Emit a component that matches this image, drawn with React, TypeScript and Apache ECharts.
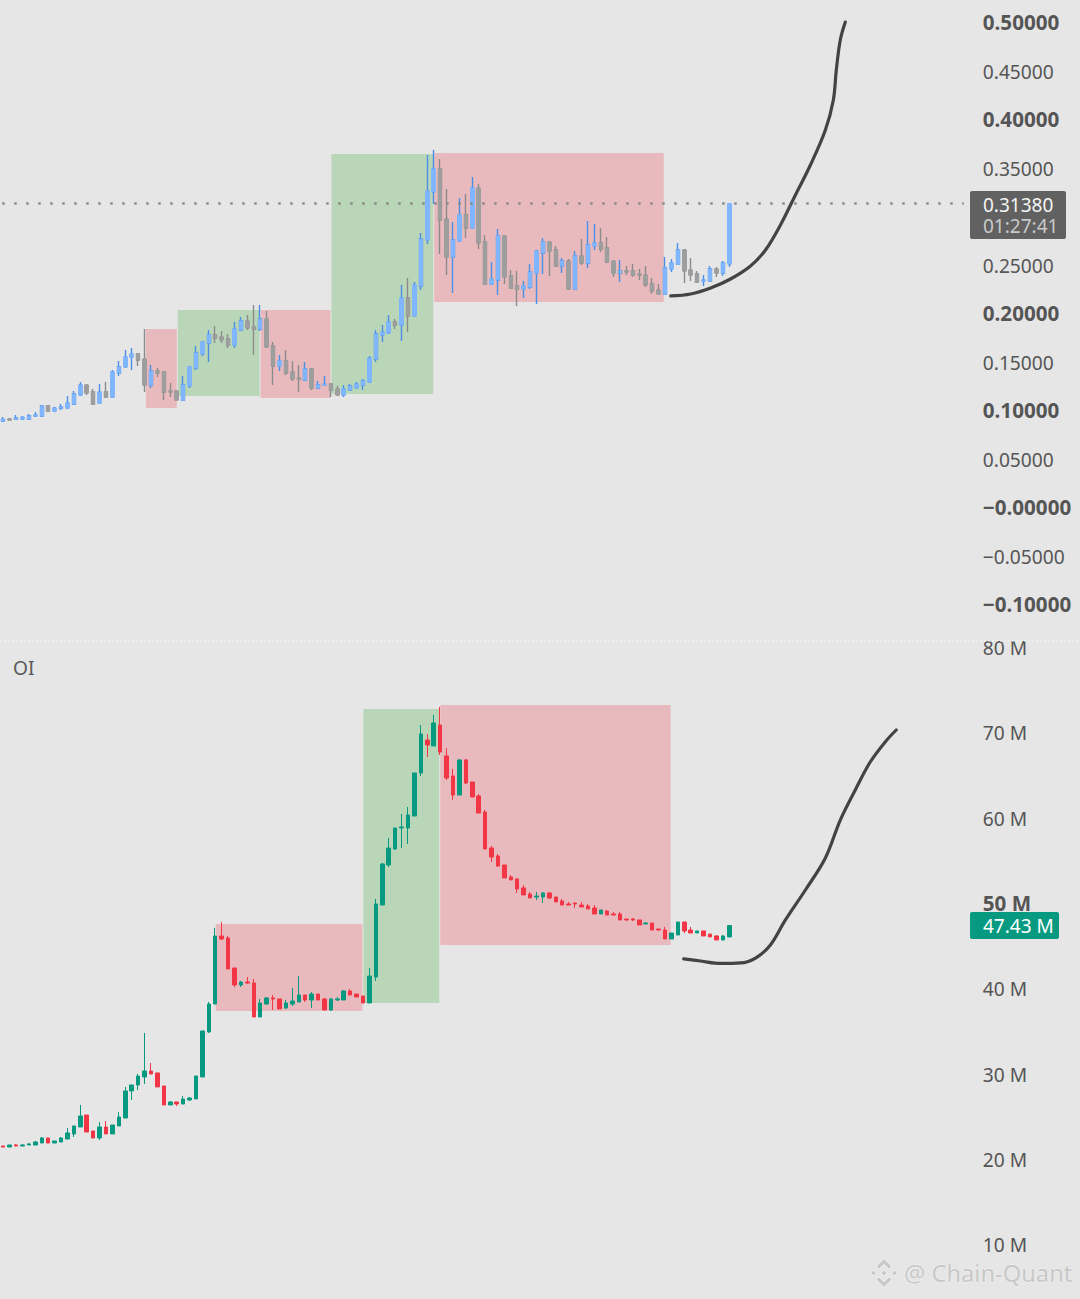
import React, { useEffect, useRef } from "react";
import * as echarts from "echarts";

// Each row: open, close, low, high
const priceCandles: number[][] = [
  [.0897,.0914,.0887,.0938],[.0918,.0907,.0907,.0928],[.0918,.0928,.0918,.0959],[.0918,.0935,.0907,.0945],
  [.0918,.0948,.0918,.0969],[.0948,.0959,.0938,.0990],[.0948,.1052,.0948,.1062],[.1052,.1000,.1000,.1052],
  [.1000,.1031,.1000,.1041],[.1031,.1041,.1010,.1072],[.1031,.1082,.1031,.1155],[.1072,.1175,.1062,.1206],
  [.1165,.1268,.1155,.1299],[.1268,.1186,.1165,.1268],[.1196,.1072,.1072,.1227],[.1082,.1196,.1082,.1278],
  [.1196,.1144,.1134,.1299],[.1144,.1402,.1144,.1423],[.1392,.1454,.1361,.1515],[.1454,.1557,.1454,.1629],
  [.1557,.1588,.1423,.1649],[.1588,.1526,.1464,.1598],[.1536,.1268,.1196,.1845],[.1268,.1412,.1237,.1474],
  [.1412,.1392,.1351,.1443],[.1402,.1196,.1113,.1402],[.1206,.1196,.1144,.1289],[.1206,.1113,.1113,.1216],
  [.1113,.1268,.1113,.1361],[.1258,.1454,.1237,.1454],[.1443,.1598,.1423,.1670],[.1588,.1711,.1567,.1722],
  [.1701,.1784,.1505,.1835],[.1784,.1753,.1701,.1876],[.1763,.1732,.1701,.1825],[.1742,.1680,.1649,.1794],
  [.1680,.1845,.1649,.1918],[.1835,.1928,.1825,.1969],[.1928,.1856,.1835,.1990],[.1866,.1845,.1577,.2093],
  [.1845,.1948,.1825,.2093],[.1948,.1660,.1649,.2031],[.1670,.1464,.1268,.1711],[.1464,.1515,.1412,.1577],
  [.1515,.1392,.1371,.1629],[.1402,.1330,.1309,.1515],[.1340,.1330,.1196,.1474],[.1320,.1433,.1309,.1505],
  [.1433,.1237,.1216,.1443],[.1237,.1268,.1227,.1309],[.1268,.1278,.1268,.1361],[.1278,.1216,.1144,.1278],
  [.1227,.1165,.1165,.1258],[.1165,.1227,.1144,.1268],[.1216,.1258,.1216,.1278],[.1237,.1278,.1237,.1299],
  [.1268,.1309,.1216,.1330],[.1299,.1546,.1299,.1567],[.1536,.1794,.1505,.1835],[.1784,.1814,.1711,.1887],
  [.1804,.1918,.1794,.1990],[.1918,.1887,.1845,.1948],[.1887,.2165,.1722,.2299],[.2165,.1979,.1814,.2371],
  [.1979,.2299,.1979,.2330],[.2289,.2773,.2247,.2835],[.2763,.3268,.2722,.3639],[.3258,.3495,.3134,.3691],
  [.3495,.2969,.2619,.3598],[.2979,.2588,.2402,.3289],[.2588,.2763,.2216,.2948],[.2753,.3021,.2753,.3196],
  [.3021,.2887,.2784,.3237],[.2887,.3299,.2887,.3412],[.3299,.2732,.2670,.3340],[.2742,.2309,.2309,.2814],
  [.2309,.2361,.2299,.2536],[.2351,.2804,.2196,.2876],[.2804,.2381,.2309,.2814],[.2392,.2268,.2268,.2454],
  [.2289,.2258,.2082,.2443],[.2258,.2289,.2165,.2340],[.2278,.2433,.2258,.2515],[.2423,.2649,.2103,.2660],
  [.2629,.2742,.2412,.2784],[.2742,.2649,.2392,.2753],[.2660,.2495,.2495,.2701],[.2495,.2546,.2423,.2577],
  [.2546,.2258,.2258,.2567],[.2258,.2598,.2258,.2649],[.2598,.2526,.2505,.2773],[.2526,.2711,.2474,.2959],
  [.2701,.2732,.2660,.2928],[.2732,.2670,.2639,.2887],[.2680,.2536,.2526,.2794],[.2546,.2423,.2381,.2546],
  [.2423,.2443,.2330,.2557],[.2443,.2433,.2402,.2495],[.2443,.2402,.2381,.2515],[.2412,.2402,.2351,.2464],
  [.2402,.2299,.2278,.2495],[.2309,.2237,.2206,.2371],[.2247,.2206,.2206,.2309],[.2206,.2474,.2206,.2588],
  [.2464,.2526,.2433,.2567],[.2515,.2660,.2515,.2732],[.2660,.2443,.2320,.2670],[.2454,.2402,.2340,.2577],
  [.2412,.2330,.2330,.2443],[.2340,.2351,.2289,.2402],[.2340,.2464,.2340,.2495],[.2464,.2423,.2381,.2485],
  [.2423,.2526,.2392,.2546],[.2515,.3138,.2485,.3144],
];

// Each row: open, close, low, high, in millions
const oiCandles: number[][] = [
  [21.60,21.48,21.48,21.60],[21.48,21.72,21.48,21.72],[21.72,21.60,21.60,21.84],[21.60,21.72,21.60,21.84],
  [21.72,21.84,21.72,21.95],[21.72,22.07,21.72,22.19],[21.95,22.54,21.95,22.66],[22.54,21.95,21.95,22.54],
  [21.95,22.19,21.95,22.19],[22.07,22.54,22.07,22.66],[22.42,23.13,22.42,23.71],[23.01,23.95,22.66,23.95],
  [23.83,25.12,23.83,26.41],[25.23,23.24,23.24,25.23],[23.36,22.54,22.54,23.36],[22.54,23.83,22.30,24.41],
  [23.83,23.01,23.01,24.53],[23.01,24.06,23.01,24.06],[23.95,25.00,23.95,25.59],[24.88,28.05,24.88,28.52],
  [28.05,28.75,26.99,28.75],[28.75,29.80,28.16,30.04],[29.69,30.39,28.87,34.84],[30.39,30.04,30.04,31.33],
  [30.16,28.52,28.52,30.16],[28.63,26.41,26.41,28.63],[26.41,26.76,26.41,26.88],[26.76,26.52,26.29,26.76],
  [26.52,27.11,26.52,27.46],[26.99,27.23,26.88,27.34],[27.11,29.80,27.11,29.80],[29.69,35.08,29.69,35.08],
  [34.96,38.24,34.85,38.48],[38.24,46.21,38.24,47.15],[46.21,45.86,45.74,47.85],[45.98,42.35,42.35,46.21],
  [42.46,40.47,40.23,42.46],[40.47,40.82,40.23,40.94],[40.82,40.70,40.59,41.41],[40.70,36.72,36.72,41.17],
  [36.72,38.36,36.72,38.83],[38.24,38.95,38.13,39.06],[38.95,38.83,37.54,39.30],[38.83,37.66,37.66,38.83],
  [37.77,38.36,37.66,38.71],[38.24,38.59,38.01,40.12],[38.48,39.30,38.48,41.52],[39.30,38.71,38.48,39.30],
  [38.71,39.41,37.77,39.65],[39.41,38.71,38.71,39.41],[38.83,37.54,37.54,38.95],[37.54,38.83,37.42,38.95],
  [38.71,38.83,38.59,39.06],[38.71,39.77,38.71,39.88],[39.77,39.30,39.30,40.00],[39.41,39.06,39.06,39.41],
  [39.18,38.36,38.36,39.18],[38.36,41.52,38.36,42.46],[41.41,49.96,40.94,50.55],[49.84,54.65,49.84,54.77],
  [54.53,56.52,54.30,57.70],[56.41,58.87,56.29,58.87],[58.87,58.99,56.52,60.51],[58.87,60.39,56.99,61.33],
  [60.27,65.31,60.27,65.31],[65.31,69.88,64.96,70.94],[69.18,68.59,67.19,69.88],[68.48,71.17,68.48,72.11],
  [70.94,67.77,67.42,73.05],[67.31,64.73,64.49,68.24],[64.96,62.73,62.15,65.78],[62.73,66.84,62.73,66.95],
  [66.84,64.14,64.02,66.95],[64.26,62.50,62.50,64.26],[62.62,60.62,60.62,62.85],[60.74,56.41,56.41,60.98],
  [56.52,55.47,54.88,56.76],[55.59,54.41,54.30,55.82],[54.53,53.01,53.01,54.53],[53.13,52.78,52.78,53.36],
  [52.89,51.72,51.25,53.01],[51.84,51.02,51.02,52.19],[51.13,50.66,50.66,51.37],[50.78,50.90,50.43,51.37],
  [50.78,51.25,50.08,51.37],[51.25,50.66,50.55,51.37],[50.78,50.20,50.20,50.78],[50.31,49.84,49.84,50.55],
  [49.96,49.84,49.84,50.20],[50.08,49.96,49.49,50.08],[49.84,49.61,49.61,50.20],[49.73,49.38,49.38,49.96],
  [49.49,48.79,48.79,49.84],[48.79,49.26,48.79,49.26],[49.14,48.67,48.67,49.26],[48.79,48.67,48.67,49.02],
  [48.79,48.09,48.09,49.02],[48.20,48.09,47.97,48.20],[48.20,48.09,47.97,48.32],[48.09,47.50,47.50,48.09],
  [47.62,47.73,47.62,47.85],[47.73,46.91,46.91,47.73],[47.03,46.91,46.91,47.03],[46.91,45.86,45.86,47.27],
  [45.86,46.56,45.86,46.56],[46.33,47.85,46.33,47.85],[47.85,46.80,46.56,47.85],[46.91,46.56,46.56,47.27],
  [46.56,46.80,46.56,46.80],[46.80,46.21,46.21,46.80],[46.44,46.10,46.10,46.44],[46.21,45.74,45.74,46.33],
  [45.74,46.21,45.74,46.33],[46.10,47.43,46.10,47.50],
];

// Shaded zones: first bar, last bar, top value, bottom value, tone
const priceZones: (number | string)[][] = [
  [22.20,27.02,.1845,.1031,"red"],
  [27.17,39.91,.2041,.1155,"green"],
  [40.06,50.93,.2041,.1134,"red"],
  [51.09,66.93,.3649,.1175,"green"],
  [67.08,102.80,.3660,.2124,"red"],
];
const oiZones: (number | string)[][] = [
  [33.07,55.90,47.62,37.42,"red"],
  [56.06,67.86,72.81,38.36,"green"],
  [68.01,103.88,73.28,45.16,"red"],
];

// Hand-drawn forecast curves: bar position, value
const priceCurve: number[][] = [
  [103.89,.2186],[106.99,.2206],[110.10,.2268],[113.20,.2361],[116.31,.2495],[118.64,.2660],[120.97,.2918],
  [123.30,.3227],[125.63,.3536],[127.96,.3897],[129.20,.4206],[129.66,.4515],[130.28,.4825],[131.06,.5010],
];
const oiCurve: number[][] = [
  [105.91,43.52],[108.55,43.28],[111.65,42.99],[114.76,43.05],[117.09,43.63],[119.41,45.16],[121.74,48.09],
  [124.85,51.60],[127.96,55.35],[130.28,59.80],[132.61,63.32],[134.94,66.60],[137.27,68.95],[138.98,70.35],
];

const barSlots = Array.from({ length: 150 }, (_, i) => String(i));
const priceTicks = [0.5,0.45,0.4,0.35,0.25,0.2,0.15,0.1,0.05,0,-0.05,-0.1];
const priceTickLabels = ["0.50000","0.45000","0.40000","0.35000","0.25000","0.20000","0.15000","0.10000","0.05000","\u22120.00000","\u22120.05000","\u22120.10000"];
const priceBoldTicks = [0.5,0.4,0.2,0.1,0,-0.1];
const oiTicks = [80,70,60,50,40,30,20,10];
const oiBoldTicks = [50];
const lastPrice = 0.3138;
const lastPriceLine: number[][] = [[-0.155, lastPrice],[149.5, lastPrice]];
const lastPriceLabel = "0.31380";
const countdownLabel = "01:27:41";
const lastOiLabel = "47.43 M";

const FONT = "'Noto Sans', sans-serif";
const ZONE: Record<string, string> = { red: "#e9babd", green: "#b9d6b9" };

function zoneSeries(data: (number | string)[][], xAxisIndex: number, yAxisIndex: number) {
  return {
    type: "custom", xAxisIndex, yAxisIndex, z: 1, silent: true, clip: false,
    encode: { x: [0, 1], y: [2, 3] },
    data,
    renderItem: (params: any, api: any) => {
      const a = api.coord([api.value(0), api.value(2)]);
      const b = api.coord([api.value(1), api.value(3)]);
      return {
        type: "rect",
        shape: { x: a[0], y: a[1], width: b[0] - a[0], height: b[1] - a[1] },
        style: { fill: ZONE[String(data[params.dataIndex][4])] },
      };
    },
  };
}
function curveSeries(data: number[][], xAxisIndex: number, yAxisIndex: number) {
  return {
    type: "line", xAxisIndex, yAxisIndex, z: 4, data, smooth: 0.35, symbol: "none", silent: true,
    lineStyle: { color: "#434343", width: 3.2, cap: "round" },
  };
}
function tickLabel(bold: number[], fmt: (v: number) => string) {
  return {
    show: true, inside: false, margin: 19, align: "left", color: "#555", fontFamily: FONT, fontSize: 19.2,
    formatter: (v: number) => {
      const isBold = bold.some((b) => Math.abs(b - v) < 1e-6);
      return isBold ? `{b|${fmt(v)}}` : fmt(v);
    },
    rich: { b: { fontFamily: FONT, fontSize: 20.6, fontWeight: "bold", color: "#555", padding: [0, 0, 2, 0] } },
  };
}
function logo(cx: number, cy: number) {
  const st = { fill: "#c8c8c8", stroke: "#f5f5f5", lineWidth: 1 };
  const shapes = [
    [[0,-14.5],[8,-6.5],[5,-3.7],[0,-8.7],[-5,-3.7],[-8,-6.5]],
    [[0,14.5],[8,6.5],[5,3.7],[0,8.7],[-5,3.7],[-8,6.5]],
    [[0,-3.2],[3.2,0],[0,3.2],[-3.2,0]],
    [[-10.5,-3],[-7.5,0],[-10.5,3],[-13.5,0]],
    [[10.5,-3],[13.5,0],[10.5,3],[7.5,0]],
  ];
  return shapes.map((pts) => ({
    type: "polygon", z: 50,
    shape: { points: pts.map((p) => [p[0] + cx, p[1] + cy]) },
    style: st,
  }));
}

export default function App() {
  const ref = useRef<HTMLDivElement>(null);
  useEffect(() => {
    document.body.style.margin = "0";
    const chart = echarts.init(ref.current!, undefined, { renderer: "svg" });
    const hidden = { show: false };
    const bodies = priceCandles.map((r) => [r[0], r[1], Math.min(r[0], r[1]), Math.max(r[0], r[1])]);
    chart.setOption({
      animation: false,
      backgroundColor: "#e6e6e6",
      grid: [
        { left: -2.22, top: 0, width: 966, height: 640 },
        { left: -2.22, top: 641, width: 966, height: 658 },
      ],
      xAxis: [
        { type: "category", gridIndex: 0, data: barSlots, ...hidden },
        { type: "value", gridIndex: 0, min: -0.5, max: 149.5, ...hidden },
        { type: "category", gridIndex: 1, data: barSlots, ...hidden },
        { type: "value", gridIndex: 1, min: -0.5, max: 149.5, ...hidden },
      ],
      yAxis: [
        {
          type: "value", gridIndex: 0, position: "right", min: -0.13608, max: 0.52371, scale: true,
          splitLine: { show: false }, axisLine: { show: false }, axisTick: { show: false },
          axisLabel: {
            ...tickLabel(priceBoldTicks, (v) => priceTickLabels[priceTicks.findIndex((t) => Math.abs(t - v) < 1e-6)] ?? ""),
            customValues: priceTicks,
          },
        },
        {
          type: "value", gridIndex: 1, position: "right", min: 3.67, max: 80.78, scale: true,
          splitLine: { show: false }, axisLine: { show: false }, axisTick: { show: false },
          axisLabel: {
            ...tickLabel(oiBoldTicks, (v) => `${v} M`),
            customValues: oiTicks,
          },
        },
      ],
      series: [
        zoneSeries(priceZones, 1, 0),
        {
          name: "Price wicks", type: "candlestick", xAxisIndex: 0, yAxisIndex: 0, z: 2, barWidth: 3, silent: true,
          data: priceCandles,
          itemStyle: { color: "#80b5ff", color0: "#9e9e9e", borderColor: "#4a8fe3", borderColor0: "#8b8b8b", borderWidth: 1.4 },
        },
        {
          name: "Price", type: "candlestick", xAxisIndex: 0, yAxisIndex: 0, z: 3, barWidth: 4, silent: true,
          data: bodies,
          itemStyle: { color: "#80b5ff", color0: "#9e9e9e", borderColor: "#80b5ff", borderColor0: "#9e9e9e", borderWidth: 1 },
        },
        {
          name: "Last price", type: "line", xAxisIndex: 1, yAxisIndex: 0, z: 5, data: lastPriceLine, symbol: "none", silent: true,
          lineStyle: { color: "#8a8a8a", width: 2.5, type: [2.5, 9.5] },
        },
        curveSeries(priceCurve, 1, 0),
        zoneSeries(oiZones, 3, 1),
        {
          name: "OI", type: "candlestick", xAxisIndex: 2, yAxisIndex: 1, z: 3, barWidth: 4, silent: true,
          data: oiCandles,
          itemStyle: { color: "#089981", color0: "#f23645", borderColor: "#089981", borderColor0: "#f23645", borderWidth: 1 },
        },
        curveSeries(oiCurve, 3, 1),
      ],
      graphic: [
        { type: "line", z: 10, shape: { x1: 0, y1: 641, x2: 1080, y2: 641 }, style: { stroke: "#f6f6f6", lineWidth: 1, lineDash: [2, 2] } },
        { type: "text", z: 10, x: 13, y: 667, style: { text: "OI", fill: "#5a5a5a", font: `19.2px ${FONT}`, verticalAlign: "middle" } },
        { type: "rect", z: 20, shape: { x: 970, y: 191, width: 96, height: 48, r: 2 }, style: { fill: "#616161" } },
        { type: "text", z: 21, x: 983, y: 204.5, style: { text: lastPriceLabel, fill: "#f4f4f4", font: `19px ${FONT}`, verticalAlign: "middle" } },
        { type: "text", z: 21, x: 983, y: 226, style: { text: countdownLabel, fill: "#c9c9c9", font: `19px ${FONT}`, verticalAlign: "middle" } },
        { type: "rect", z: 20, shape: { x: 970, y: 912, width: 89, height: 27, r: 2 }, style: { fill: "#089a80" } },
        { type: "text", z: 21, x: 983, y: 925.5, style: { text: lastOiLabel, fill: "#ffffff", font: `19px ${FONT}`, verticalAlign: "middle" } },
        ...logo(884, 1273),
        { type: "text", z: 50, x: 904, y: 1273, style: { text: "@ Chain-Quant", fill: "#c8c8c8", stroke: "#f5f5f5", lineWidth: 0.8, font: `23.7px ${FONT}`, verticalAlign: "middle" } },
      ],
    });
    return () => chart.dispose();
  }, []);
  return <div ref={ref} style={{ position: "absolute", left: 0, top: 0, width: 1080, height: 1299 }} />;
}
